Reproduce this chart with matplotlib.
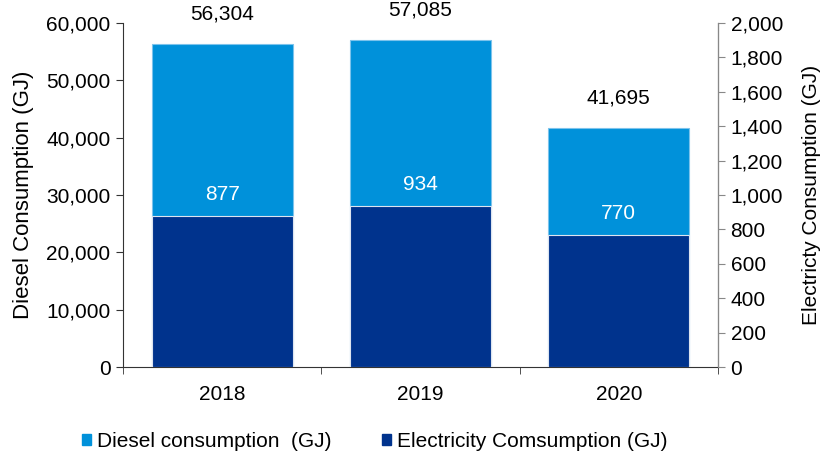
import matplotlib.pyplot as plt
import numpy as np

plt.rcParams['font.family'] = ['Liberation Sans', 'DejaVu Sans']

years = ['2018', '2019', '2020']
diesel = [56304, 57085, 41695]
electricity = [877, 934, 770]

c_diesel = '#0091DA'
c_elec = '#00338D'

fig = plt.figure(figsize=(8.22, 4.59), dpi=100)
ax = fig.add_axes([0.1496, 0.2004, 0.7239, 0.7496])
ax2 = ax.twinx()

x = np.arange(len(years))
w = 0.71

ax.bar(x, diesel, w, color=c_diesel, edgecolor='#7cc3ec', linewidth=0.8)
ax2.bar(x, electricity, w, color=c_elec, edgecolor='#dde4f0', linewidth=0.8)

ax.set_xlim(-0.5, 2.5)
ax.set_ylim(0, 60000)
ax2.set_ylim(0, 2000)
ax.set_yticks(np.arange(0, 60001, 10000))
ax.set_yticklabels([f'{v:,}' for v in range(0, 60001, 10000)])
ax2.set_yticks(np.arange(0, 2001, 200))
ax2.set_yticklabels([f'{v:,}' for v in range(0, 2001, 200)])

ax.set_xticks(x)
ax.set_xticklabels(years)
ax.set_xticks([-0.5, 0.5, 1.5, 2.5], minor=True)
ax.tick_params(axis='x', which='major', length=0, pad=13, labelsize=15)
ax.tick_params(axis='x', which='minor', length=5, direction='out', color='#333333')
ax.tick_params(axis='y', length=5, direction='out', labelsize=15, color='#333333', pad=4)
ax2.tick_params(axis='y', length=5, direction='out', labelsize=15, color='#888888', pad=4)

for a in (ax, ax2):
    a.spines['top'].set_visible(False)
ax.spines['left'].set_color('#333333')
ax.spines['bottom'].set_color('#333333')
ax2.spines['right'].set_color('#888888')
ax2.spines['left'].set_visible(False)
ax2.spines['bottom'].set_visible(False)

ax.set_ylabel('Diesel Consumption (GJ)', fontsize=16, labelpad=9)
ax2.set_ylabel('Electricty Consumption (GJ)', fontsize=15, labelpad=14)

for xi, d in zip(x, diesel):
    ax.text(xi, d + 3600, f'{d:,}', ha='center', va='bottom', fontsize=15)
for xi, e in zip(x, electricity):
    ax2.text(xi, e + 70, f'{e:,}', ha='center', va='bottom', fontsize=15, color='white')

handles = [plt.Rectangle((0, 0), 1, 1, color=c_diesel), plt.Rectangle((0, 0), 1, 1, color=c_elec)]
fig.legend(handles, ['Diesel consumption  (GJ)', 'Electricity Comsumption (GJ)'],
           loc='center', bbox_to_anchor=(0.456, 0.038), ncol=2, frameon=False,
           fontsize=15, handlelength=0.45, handleheight=0.45, handletextpad=0.3,
           columnspacing=2.4)

fig.savefig('out.png', dpi=100)
